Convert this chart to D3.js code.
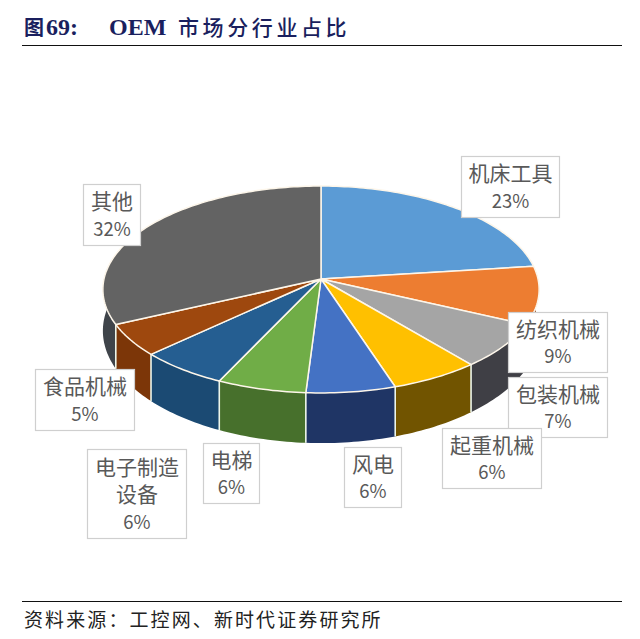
<!DOCTYPE html>
<html>
<head>
<meta charset="utf-8">
<script src="https://cdn.jsdelivr.net/npm/d3@7"></script>
<style>
  html, body { margin: 0; padding: 0; background: #fff; }
  svg { display: block; }
</style>
</head>
<body>
<div id="chart"></div>
<script>
const categories = ["机床工具", "纺织机械", "包装机械", "起重机械", "风电", "电梯", "电子制造设备", "食品机械", "其他"];
const shares = [23, 9, 7, 6, 6, 6, 6, 5, 32];

const topColors = ["#5b9bd5", "#ed7d31", "#a5a5a5", "#ffc000", "#4472c4", "#70ad47", "#255e91", "#9e480e", "#636363"];
const sideColors = ["#2e5f8c", "#8a4415", "#3f3f45", "#715400", "#1f3565", "#47702c", "#1b4a73", "#7c3608", "#3f444a"];

// label boxes [x, y, w, h], same order as categories
const labelBoxes = [
    [461, 156, 98, 61], [508, 312, 99, 60], [508, 377, 99, 60],
    [442, 428, 99, 60], [344, 447, 57, 60], [203, 443, 56, 60],
    [87, 449, 99, 89], [35, 369, 99, 61], [83, 184, 57, 61]
];
// category names wrap inside the narrow boxes
const labelLines = [["机床工具"], ["纺织机械"], ["包装机械"], ["起重机械"], ["风电"], ["电梯"], ["电子制造", "设备"], ["食品机械"], ["其他"]];

const width = 640, height = 639;
const cx = 321, cy = 279;
const radiusX = 217, persp = -0.1014, tilt = 74.1;

const svg = d3.select("#chart").append("svg")
    .attr("width", width)
    .attr("height", height);

// Project a pie angle on to the tilted disc (near side looks bigger)
function project(a) {
    const u = Math.sin(a), v = -Math.cos(a);
    const den = 1 + persp * v;
    return { x: cx + radiusX * u / den, y: (cy + tilt * v) / den, den: den };
}
function projectBottom(a) {
    const p = project(a);
    return { x: p.x, y: p.y + 40.5 / (p.den * p.den) };
}

const pie = d3.pie().sort(null).value(d => d);
const arcs = pie(shares);

const line = d3.line().x(d => d.x).y(d => d.y);

function sampleAngles(a0, a1) {
    const n = Math.max(2, Math.ceil((a1 - a0) / 0.02));
    return d3.range(n + 1).map(i => a0 + (a1 - a0) * i / n);
}

// the side wall only shows between the two outermost points of the rim
const sideStart = 84 * Math.PI / 180, sideEnd = 276 * Math.PI / 180;

// Side walls
const walls = svg.append("g");
arcs.forEach((d, i) => {
    const a0 = Math.max(d.startAngle, sideStart), a1 = Math.min(d.endAngle, sideEnd);
    if (a1 <= a0) return;
    const angles = sampleAngles(a0, a1);
    const pts = angles.map(project).concat(angles.slice().reverse().map(projectBottom));
    walls.append("path")
        .attr("d", line(pts) + "Z")
        .attr("fill", sideColors[i]);
    // seam at the start of each wedge
    if (d.startAngle >= sideStart && d.startAngle <= sideEnd) {
        walls.append("path")
            .attr("d", line([project(d.startAngle), projectBottom(d.startAngle)]))
            .attr("stroke", "#eef6ea")
            .attr("stroke-width", 1.6)
            .attr("fill", "none");
    }
});

// Top face
const topFace = svg.append("g");
arcs.forEach((d, i) => {
    const pts = [{ x: cx, y: cy }].concat(sampleAngles(d.startAngle, d.endAngle).map(project));
    topFace.append("path")
        .attr("d", line(pts) + "Z")
        .attr("fill", topColors[i])
        .attr("stroke", "#fdf6ea")
        .attr("stroke-width", 1.5)
        .attr("stroke-linejoin", "round");
});

// Data labels
const labelFont = "'Noto Sans CJK SC', sans-serif";
const rowGap = 27.5;
const labels = svg.append("g");
categories.forEach((c, i) => {
    const [bx, by, bw, bh] = labelBoxes[i];
    const g = labels.append("g");
    g.append("rect")
        .attr("x", bx + 0.5).attr("y", by + 0.5)
        .attr("width", bw).attr("height", bh)
        .attr("fill", "#fff")
        .attr("stroke", "#cfcfcf")
        .attr("stroke-width", 1.2);
    const rows = labelLines[i].concat([shares[i] + "%"]);
    rows.forEach((r, j) => {
        const isPct = j === rows.length - 1;
        g.append("text")
            .attr("x", bx + bw / 2 + 0.5)
            .attr("y", by + bh / 2 + (j - (rows.length - 1) / 2) * rowGap + (isPct ? 7.5 : 8.5))
            .attr("text-anchor", "middle")
            .style("font-family", labelFont)
            .style("font-size", isPct ? "18.5px" : "21px")
            .style("fill", "#595959")
            .text(r);
    });
});

// Header
svg.append("line")
    .attr("x1", 22).attr("x2", 622).attr("y1", 45.5).attr("y2", 45.5)
    .attr("stroke", "#111").attr("stroke-width", 1.2);

svg.append("text").attr("x", 24).attr("y", 35)
    .style("font-family", labelFont).style("font-weight", 700)
    .style("font-size", "20px").style("fill", "#1a1f5e").text("图");
svg.append("text").attr("x", 46).attr("y", 35)
    .style("font-family", "'Liberation Serif', serif").style("font-weight", 700)
    .style("font-size", "24px").style("fill", "#1a1f5e").text("69:");
svg.append("text").attr("x", 109).attr("y", 35)
    .style("font-family", "'Liberation Serif', serif").style("font-weight", 700)
    .style("font-size", "24px").style("fill", "#1a1f5e").text("OEM");
svg.append("text").attr("x", 178).attr("y", 35)
    .style("font-family", labelFont).style("font-weight", 500)
    .style("font-size", "21px").style("letter-spacing", "3.6px")
    .style("fill", "#1a1f5e").text("市场分行业占比");

// Footer
svg.append("line")
    .attr("x1", 22).attr("x2", 622).attr("y1", 601.5).attr("y2", 601.5)
    .attr("stroke", "#111").attr("stroke-width", 1.2);
svg.append("text").attr("x", 24).attr("y", 627)
    .style("font-family", labelFont).style("font-size", "19px")
    .style("letter-spacing", "2.1px").style("fill", "#222")
    .text("资料来源\uFF1A工控网、新时代证券研究所");
</script>
</body>
</html>
